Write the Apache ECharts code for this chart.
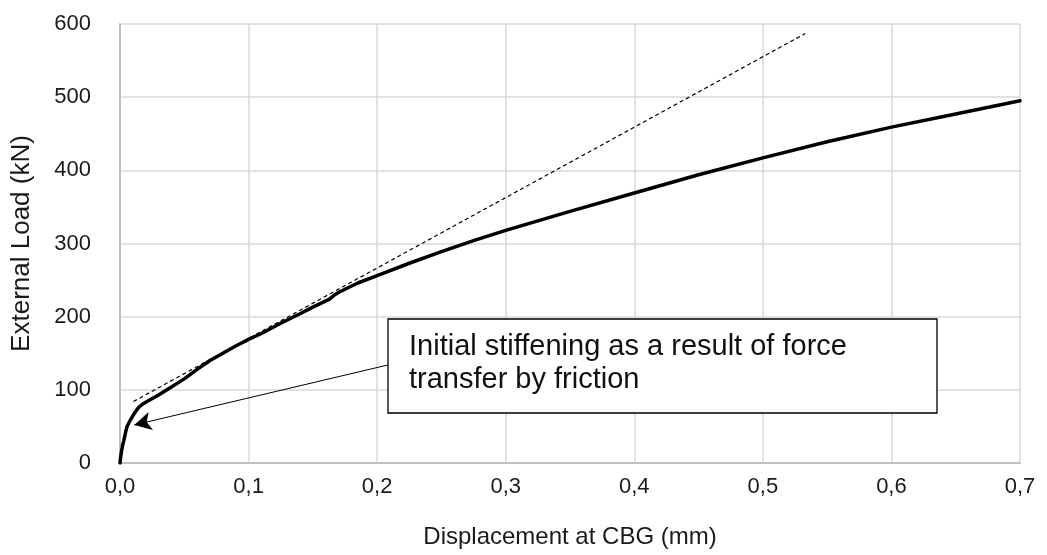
<!DOCTYPE html>
<html>
<head>
<meta charset="utf-8">
<script src="https://cdn.jsdelivr.net/npm/echarts@6/dist/echarts.min.js"></script>
<style>
  html, body { margin: 0; padding: 0; background: #fff; }
  #chart { width: 1047px; height: 555px; }
</style>
</head>
<body>
<div id="chart"></div>
<script>
// measured load-displacement curve
var dispX = [0, 0.0005, 0.001, 0.002, 0.003, 0.0042, 0.0055, 0.0075, 0.0095, 0.012, 0.0145, 0.018, 0.022, 0.03, 0.04, 0.05, 0.06, 0.07, 0.08, 0.09, 0.1, 0.11, 0.125, 0.14, 0.15, 0.163, 0.167, 0.171, 0.185, 0.2, 0.225, 0.25, 0.275, 0.3, 0.35, 0.4, 0.45, 0.5, 0.55, 0.6, 0.65, 0.7];
var loadY = [0, 8, 14, 24, 31, 41, 50, 57, 63, 70, 76, 81, 85, 93, 104, 115, 128, 140, 150, 160, 169, 177, 191, 204, 213, 224, 230, 234, 246, 256, 273, 289, 304, 318, 344, 369, 394, 417, 439, 459, 477, 495];

// dashed tangent line
var tangentX = [0.0104, 0.533];
var tangentY = [84, 587];

// arrow of the annotation (from box to curve)
var arrowFrom = [0.2084, 134];
var arrowTo = [0.0111, 52];

var noteLines = ['Initial stiffening as a result of force', 'transfer by friction'];

var xTicks = { min: 0, max: 0.7, interval: 0.1 };
var yTicks = { min: 0, max: 600, interval: 100 };

function zip(a, b) {
    return a.map(function (v, i) { return [v, b[i]]; });
}

var chartDom = document.getElementById('chart');
var myChart = echarts.init(chartDom);
var font = '"Liberation Sans", Arial, sans-serif';

var option = {
    animation: false,
    textStyle: { fontFamily: font },
    grid: { left: 120, right: 27, top: 24, bottom: 92 },
    xAxis: {
        type: 'value',
        min: xTicks.min,
        max: xTicks.max,
        interval: xTicks.interval,
        name: 'Displacement at CBG (mm)',
        nameLocation: 'middle',
        nameGap: 62,
        nameTextStyle: { fontSize: 24, color: '#1a1a1a', fontFamily: font },
        axisLine: { lineStyle: { color: '#bfbfbf', width: 2 } },
        axisTick: { show: false },
        axisLabel: {
            fontSize: 22, color: '#1a1a1a', margin: 13, fontFamily: font,
            formatter: function (v) { return v.toFixed(1).replace('.', ','); }
        },
        splitLine: { lineStyle: { color: '#d9d9d9', width: 1.5 } }
    },
    yAxis: {
        type: 'value',
        min: yTicks.min,
        max: yTicks.max,
        interval: yTicks.interval,
        name: 'External Load (kN)',
        nameLocation: 'middle',
        nameGap: 85,
        nameTextStyle: { fontSize: 26, color: '#1a1a1a', fontFamily: font },
        axisLine: { show: true, lineStyle: { color: '#bfbfbf', width: 2 } },
        axisTick: { show: false },
        axisLabel: { fontSize: 22, color: '#1a1a1a', margin: 29, fontFamily: font },
        splitLine: { lineStyle: { color: '#d9d9d9', width: 1.5 } }
    },
    series: [
        {
            name: 'tangent',
            type: 'line',
            data: zip(tangentX, tangentY),
            symbol: 'none',
            lineStyle: { color: '#000', width: 1.2, type: [4, 3] },
            z: 3
        },
        {
            name: 'load',
            type: 'line',
            data: zip(dispX, loadY),
            symbol: 'none',
            smooth: false,
            lineStyle: { color: '#000', width: 3.5, join: 'round', cap: 'round' },
            z: 4,
            markLine: {
                silent: true,
                symbol: ['none', 'arrow'],
                symbolSize: [14, 17],
                label: { show: false },
                lineStyle: { color: '#000', width: 1, type: 'solid' },
                data: [[{ coord: arrowFrom }, { coord: arrowTo }]]
            }
        }
    ],
    graphic: [
        {
            type: 'rect',
            z: 100,
            shape: { x: 388, y: 319, width: 549, height: 94 },
            style: { fill: '#fff', stroke: '#000', lineWidth: 1.3 }
        },
        {
            type: 'text',
            z: 101,
            left: 409,
            top: 330,
            style: {
                text: noteLines.join('\n'),
                font: '29px ' + font,
                fill: '#111',
                lineHeight: 33
            }
        }
    ]
};

option && myChart.setOption(option);
</script>
</body>
</html>
